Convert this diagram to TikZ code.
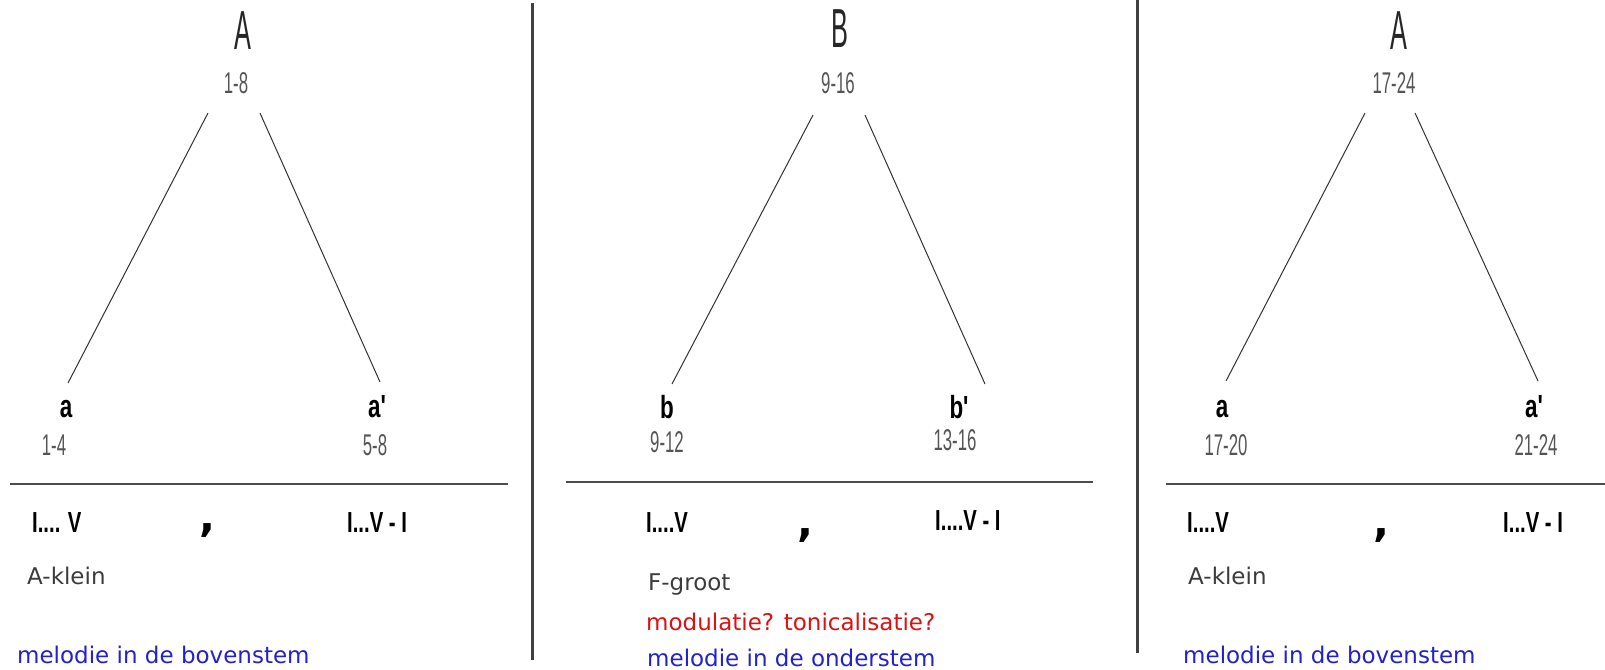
\documentclass[tikz,border=0pt]{standalone}
\usepackage{fontspec}
\setmainfont{DejaVu Sans}
\newfontfamily\titlefont[FakeStretch=0.46]{Liberation Sans}
\newfontfamily\condfont[FakeStretch=0.56]{Liberation Sans}
\newfontfamily\condbold[FakeStretch=0.7]{Liberation Sans Bold}
\definecolor{txtgray}{HTML}{3C3C3C}
\definecolor{numgray}{HTML}{555555}
\definecolor{melblue}{HTML}{2222CC}
\definecolor{modred}{HTML}{DD1111}

\begin{document}
\begin{tikzpicture}[x=1pt,y=-1pt,
    sectitle/.style={font=\titlefont\fontsize{55}{55}\selectfont, text=black!85, inner sep=0pt, anchor=base},
    barrange/.style={font=\condfont\fontsize{30}{30}\selectfont, text=numgray, inner sep=0pt, anchor=base},
    partlabel/.style={font=\condbold\fontsize{32}{32}\selectfont, inner sep=0pt, anchor=base},
    cadence/.style={font=\condbold\fontsize{29}{29}\selectfont, inner sep=0pt, anchor=base west},
    pausemark/.style={font=\bfseries\fontsize{42}{42}\selectfont, inner sep=0pt, anchor=base},
    keytext/.style={font=\fontsize{23}{23}\selectfont, text=txtgray, inner sep=0pt, anchor=base west},
    remarktext/.style={font=\fontsize{23}{23}\selectfont, inner sep=0pt, anchor=base west},
    branch/.style={line width=1pt, black!80},
    divider/.style={line width=3pt, black!75},
    barline/.style={line width=1.5pt, black!70}]
    \useasboundingbox (0,0) rectangle (1605,669);

    % dividers
    \coordinate (d1t) at (532,3);   \coordinate (d1b) at (532,660);
    \coordinate (d2t) at (1137,0);  \coordinate (d2b) at (1137,653);
    \draw[divider] (d1t) -- (d1b);
    \draw[divider] (d2t) -- (d2b);

    % first A
    \node[sectitle] (A1) at (243,50) {A};
    \node[barrange] (A1r) at (236,93) {1-8};
    \coordinate (A1l) at (208,113); \coordinate (A1rr) at (260,113);
    \coordinate (a1e) at (68,383);  \coordinate (a1pe) at (380,382);
    \draw[branch] (A1l) -- (a1e);
    \draw[branch] (A1rr) -- (a1pe);
    \node[partlabel] (a1) at (66,417) {a};
    \node[partlabel] (a1p) at (377,417) {a'};
    \node[barrange] (a1r) at (54,455) {1-4};
    \node[barrange] (a1pr) at (375,455) {5-8};
    \coordinate (h1l) at (10,484); \coordinate (h1r) at (508,484);
    \draw[barline] (h1l) -- (h1r);
    \node[cadence] (c1) at (32,532) {I.... V};
    \node[pausemark] (p1) at (207,531) {,};
    \node[cadence] (c1p) at (347,532) {I...V - I};
    \node[keytext] (k1) at (27,584) {A-klein};
    \node[remarktext, text=melblue] (m1) at (17,663) {melodie in de bovenstem};

    % B
    \node[sectitle] (B) at (840,48) {B};
    \node[barrange] (Br) at (838,93) {9-16};
    \coordinate (Bl) at (813,115); \coordinate (Brr) at (865,115);
    \coordinate (be) at (672,384); \coordinate (bpe) at (985,384);
    \draw[branch] (Bl) -- (be);
    \draw[branch] (Brr) -- (bpe);
    \node[partlabel] (b) at (667,418) {b};
    \node[partlabel] (bp) at (959,418) {b'};
    \node[barrange] (br) at (667,452) {9-12};
    \node[barrange] (bpr) at (955,450) {13-16};
    \coordinate (h2l) at (566,482); \coordinate (h2r) at (1093,482);
    \draw[barline] (h2l) -- (h2r);
    \node[cadence] (c2) at (646,532) {I....V};
    \node[pausemark] (p2) at (805,536) {,};
    \node[cadence] (c2p) at (935,530) {I....V - I};
    \node[keytext] (k2) at (648,590) {F-groot};
    \node[remarktext, text=modred] (q2) at (646,630) {modulatie? tonicalisatie?};
    \node[remarktext, text=melblue] (m2) at (647,666) {melodie in de onderstem};

    % second A
    \node[sectitle] (A2) at (1399,50) {A};
    \node[barrange] (A2r) at (1394,93) {17-24};
    \coordinate (A2l) at (1365,113); \coordinate (A2rr) at (1415,113);
    \coordinate (a2e) at (1226,381); \coordinate (a2pe) at (1538,381);
    \draw[branch] (A2l) -- (a2e);
    \draw[branch] (A2rr) -- (a2pe);
    \node[partlabel] (a2) at (1222,417) {a};
    \node[partlabel] (a2p) at (1534,417) {a'};
    \node[barrange] (a2r) at (1226,455) {17-20};
    \node[barrange] (a2pr) at (1536,455) {21-24};
    \coordinate (h3l) at (1166,484); \coordinate (h3r) at (1605,484);
    \draw[barline] (h3l) -- (h3r);
    \node[cadence] (c3) at (1187,532) {I....V};
    \node[pausemark] (p3) at (1381,536) {,};
    \node[cadence] (c3p) at (1503,532) {I...V - I};
    \node[keytext] (k3) at (1188,584) {A-klein};
    \node[remarktext, text=melblue] (m3) at (1183,663) {melodie in de bovenstem};
\end{tikzpicture}
\end{document}
